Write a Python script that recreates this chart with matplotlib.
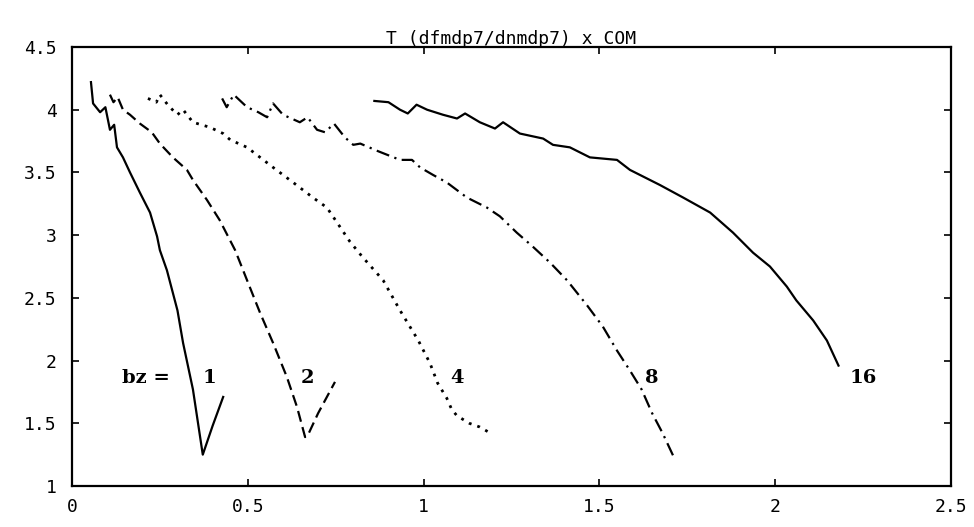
import matplotlib
matplotlib.use("Agg")
import matplotlib.pyplot as plt

# ---- data ----
x1 = [0.054, 0.06, 0.08, 0.095, 0.108, 0.12, 0.128, 0.145, 0.165, 0.193, 0.222, 0.242, 0.25, 0.27, 0.30, 0.316, 0.344, 0.372, 0.40, 0.43]
y1 = [4.22, 4.05, 3.98, 4.02, 3.84, 3.88, 3.70, 3.62, 3.50, 3.34, 3.18, 2.99, 2.88, 2.72, 2.40, 2.14, 1.77, 1.25, 1.48, 1.71]

x2 = [0.108, 0.118, 0.13, 0.145, 0.165, 0.193, 0.227, 0.25, 0.287, 0.327, 0.344, 0.384, 0.42, 0.464, 0.498, 0.535, 0.572, 0.611, 0.64, 0.663, 0.67, 0.70, 0.748]
y2 = [4.12, 4.06, 4.10, 4.00, 3.96, 3.89, 3.82, 3.73, 3.62, 3.52, 3.44, 3.28, 3.12, 2.88, 2.64, 2.38, 2.14, 1.87, 1.63, 1.39, 1.40, 1.58, 1.83]

x4 = [0.216, 0.24, 0.25, 0.275, 0.30, 0.316, 0.344, 0.392, 0.43, 0.45, 0.498, 0.535, 0.572, 0.629, 0.685, 0.725, 0.754, 0.79, 0.825, 0.885, 0.933, 0.985, 1.018, 1.04, 1.066, 1.08, 1.095, 1.13, 1.16, 1.197]
y4 = [4.09, 4.06, 4.12, 4.03, 3.96, 4.00, 3.90, 3.86, 3.81, 3.76, 3.70, 3.62, 3.54, 3.42, 3.30, 3.22, 3.10, 2.95, 2.83, 2.64, 2.40, 2.16, 1.98, 1.82, 1.70, 1.61, 1.56, 1.50, 1.47, 1.41]

x8 = [0.427, 0.44, 0.46, 0.498, 0.53, 0.555, 0.572, 0.60, 0.648, 0.67, 0.697, 0.72, 0.745, 0.776, 0.80, 0.82, 0.87, 0.933, 0.967, 0.99, 1.027, 1.066, 1.123, 1.18, 1.217, 1.265, 1.31, 1.36, 1.408, 1.465, 1.51, 1.55, 1.587, 1.62, 1.65, 1.68, 1.71]
y8 = [4.09, 4.02, 4.12, 4.02, 3.98, 3.94, 4.05, 3.96, 3.90, 3.94, 3.84, 3.82, 3.89, 3.78, 3.72, 3.73, 3.67, 3.60, 3.60, 3.54, 3.48, 3.42, 3.30, 3.22, 3.15, 3.02, 2.91, 2.78, 2.64, 2.44, 2.27, 2.08, 1.92, 1.77, 1.58, 1.42, 1.24]

x16 = [0.86, 0.90, 0.933, 0.955, 0.98, 1.01, 1.055, 1.095, 1.118, 1.16, 1.203, 1.226, 1.274, 1.34, 1.368, 1.416, 1.473, 1.55, 1.587, 1.672, 1.738, 1.815, 1.88, 1.937, 1.985, 2.033, 2.06, 2.108, 2.147, 2.18]
y16 = [4.07, 4.06, 4.00, 3.97, 4.04, 4.00, 3.96, 3.93, 3.97, 3.90, 3.85, 3.90, 3.81, 3.77, 3.72, 3.70, 3.62, 3.60, 3.52, 3.40, 3.30, 3.18, 3.02, 2.86, 2.75, 2.59, 2.48, 2.32, 2.16, 1.96]

label_texts = ["bz =", "1", "2", "4", "8", "16"]
label_x = [0.21, 0.39, 0.67, 1.095, 1.65, 2.25]
label_y = [1.86, 1.86, 1.86, 1.86, 1.86, 1.86]

xticks = [0, 0.5, 1, 1.5, 2, 2.5]
xticklabels = ["0", "0.5", "1", "1.5", "2", "2.5"]
yticks = [1, 1.5, 2, 2.5, 3, 3.5, 4, 4.5]
yticklabels = ["1", "1.5", "2", "2.5", "3", "3.5", "4", "4.5"]

title = "T (dfmdp7/dnmdp7) x COM"

# ---- figure ----
fig = plt.figure(figsize=(9.74, 5.27), dpi=100)
ax = fig.add_axes([0.0739, 0.0778, 0.9025, 0.833])

lw = 1.6
ax.plot(x1, y1, color="black", lw=lw, ls="-")
ax.plot(x2, y2, color="black", lw=lw, ls=(0, (5, 2.5)))
ax.plot(x4, y4, color="black", lw=lw + 0.4, ls=(0, (1, 2.2)))
ax.plot(x8, y8, color="black", lw=lw, ls=(0, (6, 2.5, 1, 2.5)))
ax.plot(x16, y16, color="black", lw=lw, ls="-")

for t, lx, ly in zip(label_texts, label_x, label_y):
    ax.text(lx, ly, t, ha="center", va="center", fontsize=14,
            fontweight="bold", family="DejaVu Serif")

ax.set_xlim(0, 2.5)
ax.set_ylim(1, 4.5)
ax.set_xticks(xticks)
ax.set_xticklabels(xticklabels, family="DejaVu Sans Mono", fontsize=13)
ax.set_yticks(yticks)
ax.set_yticklabels(yticklabels, family="DejaVu Sans Mono", fontsize=13)
ax.tick_params(direction="in", length=5, width=1.2, top=True, right=True)
ax.tick_params(axis="x", pad=9)
ax.tick_params(axis="y", pad=11)
for s in ax.spines.values():
    s.set_linewidth(1.6)

ax.set_title(title, family="DejaVu Sans Mono", fontsize=13, pad=2)

fig.savefig("out.png", dpi=100)
